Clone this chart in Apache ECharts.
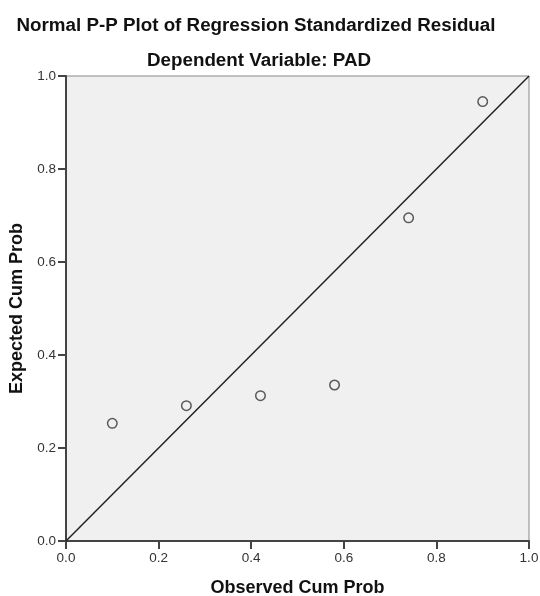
<!DOCTYPE html>
<html><head><meta charset="utf-8">
<script src="https://cdn.jsdelivr.net/npm/echarts@6/dist/echarts.min.js"></script>
<style>html,body{margin:0;padding:0;background:#fff}#c{width:540px;height:596px}</style>
</head><body><div id="c"></div>
<script>
const observed = [0.10, 0.26, 0.42, 0.58, 0.74, 0.90];
const expected = [0.253, 0.291, 0.3125, 0.3355, 0.695, 0.945];
const refLine = [[0, 0], [1, 1]];
const ticks = [0.0, 0.2, 0.4, 0.6, 0.8, 1.0];

const chart = echarts.init(document.getElementById('c'), null, {renderer: 'canvas'});
const fam = '"Liberation Sans", Arial, sans-serif';
const axisCommon = {
  type: 'value', min: 0, max: 1, interval: 0.2,
  axisLine: {show: true, onZero: false, lineStyle: {color: '#444', width: 2}},
  axisTick: {show: true, length: 8, lineStyle: {color: '#444', width: 2}},
  splitLine: {show: false},
  axisLabel: {color: '#333', fontSize: 13.5, margin: 10, fontFamily: fam, formatter: v => v.toFixed(1)},
  nameTextStyle: {color: '#111', fontSize: 18, fontWeight: 'bold', fontFamily: fam}
};
chart.setOption({
  animation: false,
  title: [
    {text: 'Normal P-P Plot of Regression Standardized Residual', left: 251, top: 11, textAlign: 'center',
     textStyle: {fontSize: 18.8, fontWeight: 'bold', color: '#111', fontFamily: fam}},
    {text: 'Dependent Variable: PAD', left: 254, top: 46, textAlign: 'center',
     textStyle: {fontSize: 18.8, fontWeight: 'bold', color: '#111', fontFamily: fam}}
  ],
  grid: {left: 66, right: 11, top: 76, bottom: 55, containLabel: false, outerBoundsMode: 'none',
         show: true, backgroundColor: '#f0f0f0', borderColor: '#888', borderWidth: 1},
  xAxis: Object.assign({}, axisCommon, {name: 'Observed Cum Prob', nameLocation: 'middle', nameGap: 38}),
  yAxis: Object.assign({}, axisCommon, {name: 'Expected Cum Prob', nameLocation: 'middle', nameGap: 37}),
  series: [
    {type: 'line', data: refLine, symbol: 'none', lineStyle: {color: '#222', width: 1.5}, silent: true},
    {type: 'scatter', data: observed.map((x, i) => [x, expected[i]]), symbol: 'circle', symbolSize: 9.5,
     itemStyle: {color: '#f0f0f0', borderColor: '#333', borderWidth: 1.5}}
  ]
});
</script></body></html>
